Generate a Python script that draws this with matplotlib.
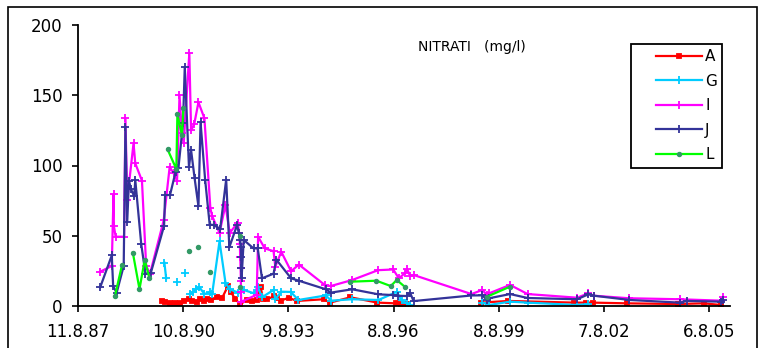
import numpy as np
import matplotlib
matplotlib.use("Agg")
import matplotlib.pyplot as plt
import matplotlib.dates as mdates
from matplotlib.patches import Rectangle
from matplotlib.ticker import FuncFormatter, MultipleLocator

nan = np.nan

# sampling dates as decimal years, values in mg/l (nan = gap in the series)
a_year = [1990.00, 1990.09, 1990.23, 1990.38, 1990.52, 1990.63, 1990.76, 1990.86, 1991.00,
          1991.09, 1991.19, 1991.28, 1991.41, 1991.57, 1991.71, 1991.88, 1991.96, 1992.09,
          1992.23, 1992.42, 1992.56, 1992.71, 1992.81, 1992.88, 1993.00, 1993.18, 1993.28,
          1993.38, 1993.61, 1993.85, 1994.61, 1994.79, 1995.37, 1996.14, 1996.66, 1996.80,
          1996.99, 1998.0, 1999.09, 1999.87, 2001.75, 2002.08, 2002.27, 2003.25, 2004.70,
          2005.44, 2005.94]
a_val = [3.3, 3.0, 2.2, 1.9, 2.4, 3.5, 4.8, 3.3, 3.1,
         4.8, 3.8, 4.8, 4.0, 6.2, 5.5, 14.2, 10.0, 5.0,
         1.2, 4.3, 3.3, 4.5, 13.8, 5.0, 4.8, 6.8, 5.5,
         3.8, 5.8, 3.6, 4.8, 2.4, 6.2, 2.4, 1.9, 1.4,
         1.4, nan, 2.4, 3.6, 2.4, 2.4, 2.4, 1.9, 1.4,
         1.9, 0.7]

g_year = [1990.07, 1990.12, 1990.30, 1990.44, 1990.55, 1990.66, 1990.72, 1990.79, 1990.89,
          1990.98, 1991.07, 1991.21, 1991.36, 1991.43, 1991.64, 1991.81, 1991.93, 1992.18,
          1992.33, 1992.63, 1992.73, 1992.85, 1993.18, 1993.23, 1993.40, 1993.67, 1993.89,
          1994.67, 1994.82, 1995.42, 1996.17, 1996.69, 1996.83, 1996.97, 1997.06, 1998.0,
          1999.13, 1999.32, 1999.92, 2000.42, 2001.83, 2002.15]
g_val = [30.8, 19.7, nan, 17.3, nan, 23.5, nan, 8.5, 10.0,
         12.0, 13.3, 8.5, 9.8, 8.5, 46.0, 16.6, 11.9, 9.5,
         11.4, 9.0, 13.8, 6.2, 11.4, 4.8, 10.2, 10.0, 4.3,
         7.5, 3.8, 4.8, 4.3, 10.0, 4.0, 1.9, 0.5, nan,
         2.4, 0.7, 3.1, 2.4, 0.7, 1.4]

i_year = [1988.24, 1988.57, 1988.62, 1988.63, 1988.68, 1988.92, 1988.96, 1989.01, 1989.19,
          1989.24, 1989.43, 1989.55, 1989.66, 1990.05, 1990.22, 1990.33, 1990.43, 1990.50,
          1990.57, 1990.62, 1990.78, 1990.83, 1990.92, 1991.04, 1991.21, 1991.38, 1991.43,
          1991.64, 1991.81, 1991.93, 1992.16, 1992.20, 1992.22, 1992.23, 1992.24, 1992.25,
          1992.25, 1992.26, 1992.70, 1992.74, 1992.93, 1993.18, 1993.23, 1993.40, 1993.68,
          1993.90, 1994.66, 1994.81, 1995.42, 1996.16, 1996.59, 1996.75, 1996.92, 1996.99,
          1997.07, 1997.18, 1998.82, 1999.13, 1999.26, 1999.32, 1999.92, 2000.42, 2001.83,
          2002.15, 2002.32, 2003.32, 2004.75, 2005.92, 2005.99]
i_val = [24.4, 28.5, 79.5, 57.0, 49.3, 49.3, 133.6, 75.4, 115.8,
         101.5, 89.2, 28.5, 23.0, 61.0, 99.0, 94.6, 89.0, 150.0,
         123.0, 115.8, 180.0, 125.0, 129.5, 145.0, 133.6, 69.5, 64.0,
         52.0, 72.0, 52.0, 59.3, 52.0, 44.0, 35.0, 27.0, 18.0,
         10.0, 3.0, 8.0, 49.3, 41.0, 39.0, 28.0, 38.6, 24.7,
         29.5, 14.6, 14.2, 18.5, 25.5, 26.0, 19.7, 23.3, 26.0,
         21.4, 22.0, 8.5, 11.4, 7.8, 9.0, 15.0, 8.5, 5.9,
         9.0, 7.3, 5.5, 4.8, 3.8, 6.6]

j_year = [1988.24, 1988.57, 1988.61, 1988.71, 1988.91, 1988.96, 1989.01, 1989.06, 1989.12,
          1989.21, 1989.24, 1989.41, 1989.53, 1989.68, 1990.06, 1990.09, 1990.23, 1990.39,
          1990.47, 1990.60, 1990.65, 1990.77, 1990.83, 1990.93, 1991.04, 1991.10, 1991.23,
          1991.36, 1991.47, 1991.66, 1991.83, 1991.92, 1992.14, 1992.19, 1992.23, 1992.25,
          1992.26, 1992.26, 1992.27, 1992.33, 1992.61, 1992.73, 1992.85, 1993.18, 1993.26,
          1993.68, 1993.90, 1994.67, 1994.81, 1995.42, 1996.17, 1996.57, 1996.72, 1996.97,
          1997.07, 1997.17, 1998.82, 1999.13, 1999.26, 1999.32, 1999.92, 2000.42, 2001.83,
          2002.15, 2002.32, 2003.32, 2004.75, 2004.96, 2005.92, 2005.99]
j_val = [13.3, 36.0, 14.0, 9.5, 28.5, 127.6, 60.0, 89.0, 83.0,
         78.0, 89.7, 44.0, 23.0, 23.3, 57.0, 79.0, 79.0, 95.6,
         98.4, 130.0, 170.0, 99.0, 111.0, 91.0, 71.0, 130.7, 90.0,
         58.0, 57.6, 55.0, 90.0, 41.8, 57.6, 52.0, 47.0, 42.0,
         35.0, 27.0, 20.0, 47.0, 41.0, 41.0, 19.7, 23.0, 33.0,
         19.7, 18.0, 11.9, 9.5, 11.9, 8.3, 7.8, 7.3, 7.1,
         9.5, 3.5, 7.5, 7.6, 4.3, 5.5, 8.5, 5.7, 4.8,
         8.3, 7.3, 4.3, 2.4, 3.6, 3.1, 4.3]

l_year = [1988.66, 1988.86, 1989.0, 1989.17, 1989.36, 1989.51, 1989.64, 1989.9, 1990.16,
          1990.41, 1990.44, 1990.57, 1990.61, 1990.70, 1990.76, 1990.90, 1991.04, 1991.2,
          1991.38, 1991.8, 1992.21, 1992.21, 1992.21, 1995.0, 1995.37, 1996.11, 1996.52,
          1996.69, 1996.94, 1998.0, 1999.26, 1999.92]
l_val = [7.0, 29.0, nan, 38.0, 12.0, 33.0, 20.0, nan, 111.5,
         97.5, 136.4, 121.7, 141.0, nan, 39.5, nan, 42.2, nan,
         24.4, nan, 49.5, nan, 13.5, nan, 17.3, 18.0, 14.2,
         18.5, 13.3, nan, 6.6, 13.8]

tick_dates = ["1987-08-11", "1990-08-10", "1993-08-09", "1996-08-08",
              "1999-08-08", "2002-08-07", "2005-08-06"]
x_end = "2006-03-10"

base = mdates.date2num(np.datetime64("1987-01-01"))


def to_num(years):
    return base + (np.asarray(years, dtype=float) - 1987.0) * 365.25


plt.rcParams["font.family"] = ["DejaVu Sans"]

W, H = 764, 348
fig = plt.figure(figsize=(W / 100, H / 100), dpi=100)
ax = fig.add_axes([78 / W, 1 - 306 / H, (730 - 78) / W, (306 - 25) / H])

series = [
    ("A", a_year, a_val, "#FF0000", "s", 2.2, "#FF0000"),
    ("G", g_year, g_val, "#00CCFF", "+", 5.5, "#00CCFF"),
    ("I", i_year, i_val, "#FF00FF", "+", 5.5, "#FF00FF"),
    ("J", j_year, j_val, "#333399", "+", 5.5, "#333399"),
    ("L", l_year, l_val, "#00FF00", "o", 2.6, "#339966"),
]
for name, yrs, vals, col, mk, ms, mcol in series:
    ax.plot(to_num(yrs), vals, color=col, lw=1.6, marker=mk, ms=ms,
            mew=1.3, mfc=mcol, mec=mcol, label=name)

ax.set_ylim(0, 200)
ax.yaxis.set_major_locator(MultipleLocator(50))
ticks = [mdates.date2num(np.datetime64(d)) for d in tick_dates]
ax.set_xlim(ticks[0], mdates.date2num(np.datetime64(x_end)))
ax.set_xticks(ticks)


def fmt(x, pos):
    d = mdates.num2date(x)
    return f"{d.day}.{d.month}.{d.year % 100:02d}"


ax.xaxis.set_major_formatter(FuncFormatter(fmt))
for s in ["top", "right"]:
    ax.spines[s].set_visible(False)
for s in ["left", "bottom"]:
    ax.spines[s].set_linewidth(1.3)
ax.tick_params(axis="both", direction="out", length=4, width=1.2, labelsize=12)
ax.tick_params(axis="y", pad=7)
ax.tick_params(axis="x", pad=8)

leg = ax.legend(loc="upper left", bbox_to_anchor=((644 - 78) / 652, (306 - 37) / 281),
                frameon=False, fontsize=11, handlelength=3.0, handletextpad=0.2,
                labelspacing=0.62, borderpad=0.3)
fig.add_artist(Rectangle((631 / W, 1 - 168 / H), (722 - 631) / W, (168 - 44) / H,
                         transform=fig.transFigure, fill=False, lw=1.3, ec="black"))

fig.text(418 / W, 1 - 47 / H, "NITRATI   (mg/l)", fontsize=10, ha="left", va="center")

# outer chart border
fig.add_artist(Rectangle((8 / W, -0.05), (757 - 8) / W, (H - 7) / H + 0.05,
                         transform=fig.transFigure, fill=False, lw=1.2, ec="black"))

fig.savefig("out.png", dpi=100)
